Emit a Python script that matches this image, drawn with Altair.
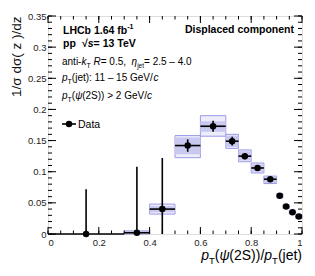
import altair as alt
import pandas as pd

FONT = "Liberation Sans"
W, H = 254, 218

# ---- data ----
bin_lo = [0.0, 0.3, 0.4, 0.5, 0.6, 0.7, 0.75, 0.8, 0.85, 0.9, 0.925, 0.95, 0.975]
bin_hi = [0.3, 0.4, 0.5, 0.6, 0.7, 0.75, 0.8, 0.85, 0.9, 0.925, 0.95, 0.975, 1.0]
y_val = [0.0, 0.002, 0.040, 0.142, 0.173, 0.149, 0.125, 0.106, 0.088, 0.0615, 0.044, 0.035, 0.028]
stat_lo = [0.0, 0.0, 0.0, 0.132, 0.164, 0.142, 0.120, 0.102, 0.085, 0.059, 0.042, 0.033, 0.026]
stat_hi = [0.072, 0.108, 0.122, 0.152, 0.182, 0.156, 0.130, 0.110, 0.091, 0.064, 0.046, 0.037, 0.030]
outer_lo = [None, 0.0, 0.032, 0.1225, 0.157, 0.1375, 0.116, 0.098, 0.081, 0.058, 0.041, 0.032, 0.025]
outer_hi = [None, 0.005, 0.048, 0.158, 0.190, 0.160, 0.135, 0.114, 0.093, 0.065, 0.047, 0.038, 0.031]
inner_lo = [None, 0.0, 0.035, 0.128, 0.164, 0.140, 0.118, 0.100, 0.082, 0.059, 0.042, 0.033, 0.026]
inner_hi = [None, 0.005, 0.045, 0.155, 0.181, 0.158, 0.133, 0.112, 0.092, 0.064, 0.046, 0.037, 0.030]

y_major = [0, 0.05, 0.1, 0.15, 0.2, 0.25, 0.3, 0.35]
y_minor = [i / 100 for i in range(0, 36)]
x_major = [0, 0.2, 0.4, 0.6, 0.8, 1.0]
x_minor = [i / 20 for i in range(0, 21)]

df = pd.DataFrame({
    "lo": bin_lo, "hi": bin_hi,
    "c": [(a + b) / 2 for a, b in zip(bin_lo, bin_hi)],
    "y": y_val, "slo": stat_lo, "shi": stat_hi,
    "olo": outer_lo, "ohi": outer_hi, "ilo": inner_lo, "ihi": inner_hi,
})
boxes = df.dropna()

xs = alt.Scale(domain=[0, 1], nice=False, zero=False)
ys = alt.Scale(domain=[0, 0.35], nice=False, zero=False)

XAXIS = alt.Axis(values=x_major, format="~g", title=None,
                 ticks=False, domain=False, grid=False, labelFont=FONT, labelFontSize=9.5,
                 labelColor="#222", labelPadding=3)
YAXIS = alt.Axis(values=y_major, format="~g",
                 title="1/σ dσ( z )/dz", titleFont=FONT, titleFontSize=13.5,
                 titleFontWeight="normal", titleColor="#111", titleAngle=270,
                 titleAlign="right", titleBaseline="alphabetic", titleX=-28, titleY=0,
                 ticks=False, domain=False, grid=False, labelFont=FONT, labelFontSize=9.5,
                 labelColor="#222", labelPadding=2)

X = lambda f: alt.X(f, type="quantitative", scale=xs, axis=XAXIS)
Y = lambda f: alt.Y(f, type="quantitative", scale=ys, axis=YAXIS)

outer = alt.Chart(boxes).mark_rect(fill="#ececfa", stroke="#9a9ae6", strokeWidth=1).encode(
    x=X("lo"), x2="hi", y=Y("olo"), y2="ohi")
inner = alt.Chart(boxes).mark_rect(fill="#c9c9f0").encode(
    x=X("lo"), x2="hi", y=Y("ilo"), y2="ihi")
xerr = alt.Chart(df).mark_rule(color="black", strokeWidth=1.6).encode(
    x=X("lo"), x2="hi", y=Y("y"))
yerr = alt.Chart(df).mark_rule(color="black", strokeWidth=1.6).encode(
    x=X("c"), y=Y("slo"), y2="shi")
pts = alt.Chart(df).mark_circle(color="black", opacity=1, size=42).encode(
    x=X("c"), y=Y("y"))

# inward ticks on all four sides
def yticks(vals, length):
    d = pd.DataFrame({"v": vals})
    left = alt.Chart(d).mark_rule(color="black", strokeWidth=1).encode(
        y=Y("v"), x=alt.value(0), x2=alt.value(length))
    right = alt.Chart(d).mark_rule(color="black", strokeWidth=1).encode(
        y=Y("v"), x=alt.value(W - length), x2=alt.value(W))
    return [left, right]

def xticks(vals, length):
    d = pd.DataFrame({"v": vals})
    bot = alt.Chart(d).mark_rule(color="black", strokeWidth=1).encode(
        x=X("v"), y=alt.value(H - length), y2=alt.value(H))
    top = alt.Chart(d).mark_rule(color="black", strokeWidth=1).encode(
        x=X("v"), y=alt.value(0), y2=alt.value(length))
    return [bot, top]

tick_layers = yticks(y_major, 8) + yticks(y_minor, 4) + xticks(x_major, 7) + xticks(x_minor, 3.5)

# ---- text with sub/superscripts ----
REG = {' ': 278, '(': 333, ')': 333, ',': 278, '-': 333, '.': 278, '/': 278, ':': 278,
       '=': 584, '>': 584, '–': 556, 'C': 722, 'D': 722, 'G': 778, 'H': 722, 'L': 556,
       'R': 722, 'S': 667, 'T': 611, 'V': 667, 'a': 556, 'b': 556, 'c': 500, 'd': 556,
       'e': 556, 'f': 278, 'i': 222, 'j': 222, 'k': 500, 'l': 222, 'm': 833, 'n': 556,
       'o': 556, 'p': 556, 's': 500, 't': 278, 'η': 556, 'ψ': 700, 'σ': 600, '√': 549}
BOLD = {' ': 278, '.': 278, '-': 333, '=': 584, 'C': 722, 'D': 722, 'H': 722, 'L': 611,
        'T': 611, 'V': 667, 'a': 556, 'b': 611, 'c': 556, 'd': 611, 'e': 556, 'f': 333,
        'i': 278, 'l': 278, 'm': 889, 'n': 611, 'o': 611, 'p': 611, 's': 556, 't': 333,
        '√': 549}

def width(s, size, bold):
    tab = BOLD if bold else REG
    return sum(tab.get(ch, 556) for ch in s) / 1000 * size

one = pd.DataFrame({"k": [0]})

def runs(segs, x0, y0, align="left"):
    # segs: (text, size, italic, bold, dy)
    total = sum(width(t, s, b) for t, s, i, b, dy in segs)
    x = x0 if align == "left" else x0 - total
    out = []
    for t, s, it, b, dy in segs:
        out.append(alt.Chart(one).mark_text(
            text=t, align="left", baseline="alphabetic", font=FONT, fontSize=s,
            fontStyle="italic" if it else "normal", fontWeight="bold" if b else "normal",
            color="black").encode(x=alt.value(x), y=alt.value(y0 + dy)))
        x += width(t, s, b)
    return out

texts = []
texts += runs([("LHCb 1.64 fb", 10.5, False, True, 0), ("-1", 7, False, True, -4.5)], 15, 17.5)
texts += runs([("pp", 10.5, False, True, 0)], 15, 31)
texts += runs([("√", 10.5, False, True, 0), ("s", 10.5, True, True, 0),
               (" = 13 TeV", 10.5, False, True, 0)], 34, 31)
texts += runs([("Displaced component", 10.5, False, True, 0)], 246, 17, align="right")
texts += runs([("anti-", 10, False, False, 0), ("k", 10, True, False, 0),
               ("T", 7, False, False, 3), (" ", 10, False, False, 0),
               ("R", 10, True, False, 0), (" = 0.5, ", 10, False, False, 0),
               ("η", 10, True, False, 0), ("jet", 6.5, False, False, 3),
               (" = 2.5 – 4.0", 10, False, False, 0)], 14, 48.5)
texts += runs([("p", 10, True, False, 0), ("T", 7, False, False, 3),
               ("(jet): 11 – 15 GeV/", 10, False, False, 0), ("c", 10, True, False, 0)], 14, 65)
texts += runs([("p", 10, True, False, 0), ("T", 7, False, False, 3),
               ("(", 10, False, False, 0), ("ψ", 10, True, False, 0),
               ("(2S)) > 2 GeV/", 10, False, False, 0), ("c", 10, True, False, 0)], 14, 83)
texts += runs([("Data", 10.5, False, False, 0)], 30, 112)
# x-axis title
texts += runs([("p", 14, True, False, 0), ("T", 9.5, False, False, 4.5),
               ("(", 14, False, False, 0), ("ψ", 14, True, False, 0),
               ("(2S))/", 14, False, False, 0),
               ("p", 14, True, False, 0), ("T", 9.5, False, False, 4.5),
               ("(jet)", 14, False, False, 0)], W, 243.5, align="right")

leg_line = alt.Chart(one).mark_rule(color="black", strokeWidth=1.6).encode(
    x=alt.value(14), x2=alt.value(28), y=alt.value(108))
leg_pt = alt.Chart(one).mark_circle(color="black", opacity=1, size=42).encode(
    x=alt.value(21), y=alt.value(108))

chart = alt.layer(outer, inner, xerr, yerr, pts, *tick_layers,
                  leg_line, leg_pt, *texts).properties(
    width=W, height=H,
    autosize=alt.AutoSizeParams(type="none"),
    padding={"left": 40, "top": 8, "right": 5, "bottom": 34},
).configure_view(stroke="black", strokeWidth=1).configure(background="white")

chart.save("out.html", embed_options={"renderer": "svg", "actions": False})
